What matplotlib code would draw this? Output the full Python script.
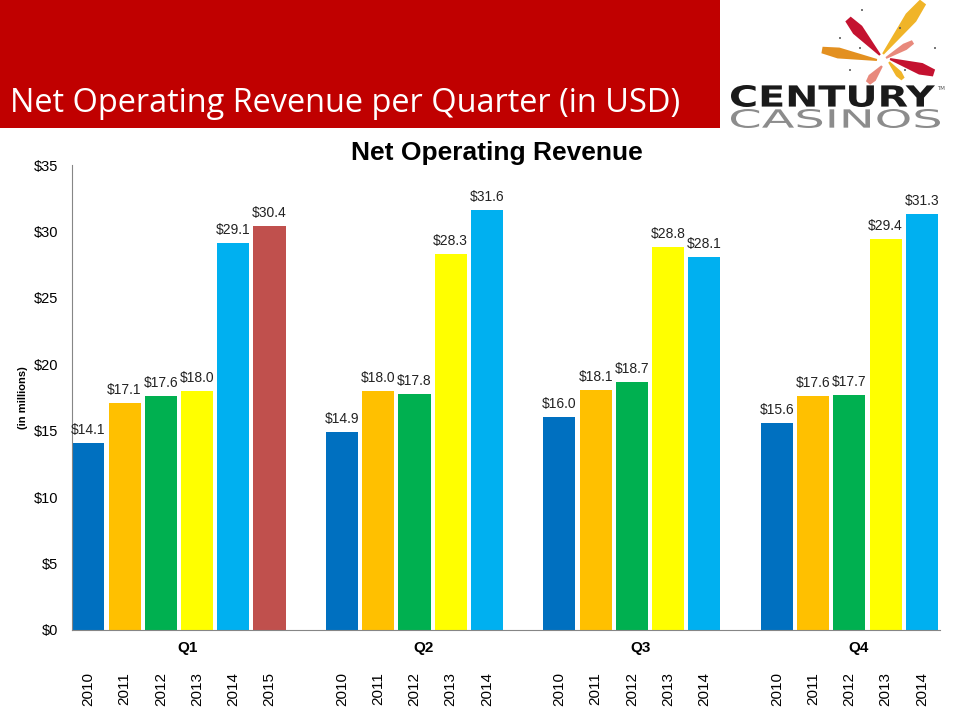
#!/usr/bin/env python3
"""Net operating revenue per quarter, grouped by year, slide style."""
import matplotlib
matplotlib.use("Agg")
import matplotlib.pyplot as plt
from matplotlib.patches import Rectangle, Polygon, PathPatch
from matplotlib.textpath import TextPath
from matplotlib.font_manager import FontProperties
from matplotlib.transforms import Affine2D, blended_transform_factory
import numpy as np

QUARTERS = ["Q1", "Q2", "Q3", "Q4"]

Q1_YEARS = ["2010", "2011", "2012", "2013", "2014", "2015"]
Q1_VALUES = [14.1, 17.1, 17.6, 18.0, 29.1, 30.4]
Q2_YEARS = ["2010", "2011", "2012", "2013", "2014"]
Q2_VALUES = [14.9, 18.0, 17.8, 28.3, 31.6]
Q3_YEARS = ["2010", "2011", "2012", "2013", "2014"]
Q3_VALUES = [16.0, 18.1, 18.7, 28.8, 28.1]
Q4_YEARS = ["2010", "2011", "2012", "2013", "2014"]
Q4_VALUES = [15.6, 17.6, 17.7, 29.4, 31.3]

YEAR_COLOR = {
    "2010": "#0070C0",
    "2011": "#FFC000",
    "2012": "#00B050",
    "2013": "#FFFF00",
    "2014": "#00B0F0",
    "2015": "#C0504D",
}

FONT = "Liberation Sans"


def text_box(ax, s, x0, x1, y_top, y_bot, color, weight):
    # stretch a text path to fill a pixel box (bg axes has y pointing down)
    tp = TextPath((0, 0), s, size=1, prop=FontProperties(family="DejaVu Sans", weight=weight))
    ext = tp.get_extents()
    tr = (Affine2D().translate(-ext.x0, -ext.y0)
          .scale((x1 - x0) / ext.width, -(y_bot - y_top) / ext.height)
          .translate(x0, y_bot))
    ax.add_patch(PathPatch(tr.transform_path(tp), color=color, lw=0))


def stroke(ax, p0, p1, w, color):
    # tapered brush stroke, thin at the centre of the burst
    p0, p1 = np.array(p0, float), np.array(p1, float)
    d = p1 - p0
    n = np.array([-d[1], d[0]]) / np.hypot(*d)
    pts = [p0 + n * 1.0, p0 + d * 0.7 + n * w / 2, p1 + n * w * 0.3,
           p1 - n * w * 0.3, p0 + d * 0.7 - n * w / 2, p0 - n * 1.0]
    ax.add_patch(Polygon(pts, closed=True, color=color, lw=0))


def main():
    fig = plt.figure(figsize=(9.6, 7.2), dpi=100)

    # background layer in pixel coordinates
    bg = fig.add_axes([0, 0, 1, 1])
    bg.set_xlim(0, 960)
    bg.set_ylim(720, 0)
    bg.axis("off")
    bg.add_patch(Rectangle((0, 0), 720, 128, color="#C00000", lw=0))
    bg.text(10, 103, "Net Operating Revenue per Quarter (in USD)", color="white",
            fontsize=23.4, family="Open Sans", va="center", ha="left")

    # logo
    stroke(bg, (883, 54), (923, 2), 13, "#F0B428")
    stroke(bg, (880, 55), (848, 19), 12, "#C41230")
    stroke(bg, (877, 60), (822, 50), 11, "#E39020")
    stroke(bg, (882, 66), (868, 83), 9, "#E8897C")
    stroke(bg, (890, 59), (934, 73), 12, "#C41230")
    stroke(bg, (889, 62), (903, 79), 7, "#F0B428")
    stroke(bg, (886, 58), (913, 42), 7, "#E8897C")
    for dx, dy in [(862, 10), (840, 38), (900, 28), (935, 48), (850, 70), (905, 70), (860, 48)]:
        bg.add_patch(plt.Circle((dx, dy), 1.0, color="#555555", lw=0))
    text_box(bg, "CENTURY", 731, 935, 85, 107, "#1A1A1A", "bold")
    text_box(bg, "CASINOS", 731, 940, 109, 128, "#8C8C8C", "normal")
    bg.text(937, 89, "TM", fontsize=4, color="#555555", va="center")

    # chart
    ax = fig.add_axes([72 / 960, 90 / 720, 868 / 960, 465 / 720])
    groups = [(Q1_YEARS, Q1_VALUES), (Q2_YEARS, Q2_VALUES),
              (Q3_YEARS, Q3_VALUES), (Q4_YEARS, Q4_VALUES)]
    slot = 0
    ticks, tick_labels, centers = [], [], []
    for years, values in groups:
        xs = np.arange(slot, slot + len(years))
        ax.bar(xs, values, 0.885, color=[YEAR_COLOR[y] for y in years], lw=0)
        for x, v in zip(xs, values):
            ax.text(x, v + 0.45, f"${v:.1f}", ha="center", va="bottom",
                    fontsize=10, family=FONT, color="#222222")
        ticks += list(xs)
        tick_labels += years
        centers.append(xs.mean())
        slot += len(years) + 1

    ax.set_xlim(-0.45, slot - 1.5)
    ax.set_ylim(0, 35)
    ax.set_yticks(range(0, 36, 5))
    ax.set_yticklabels([f"${v}" for v in range(0, 36, 5)], family=FONT, fontsize=10.5)
    ax.set_xticks(ticks)
    ax.set_xticklabels(tick_labels, rotation=90, family=FONT, fontsize=11, va="top")
    ax.tick_params(axis="x", length=0, pad=30)
    ax.tick_params(axis="y", length=0, pad=10)
    for side in ("top", "right"):
        ax.spines[side].set_visible(False)
    for side in ("left", "bottom"):
        ax.spines[side].set_color("#868686")

    trans = blended_transform_factory(ax.transData, ax.transAxes)
    for q, c in zip(QUARTERS, centers):
        ax.text(c + 0.25, -0.039, q, transform=trans, ha="center", va="center",
                fontsize=11, fontweight="bold", family=FONT)

    ax.set_title("Net Operating Revenue", fontsize=19, fontweight="bold",
                 family=FONT, pad=-9, x=0.49)
    ax.set_ylabel("(in millions)", fontsize=8, fontweight="bold", family=FONT, labelpad=4)

    fig.savefig("out.png", dpi=100)


if __name__ == "__main__":
    main()
